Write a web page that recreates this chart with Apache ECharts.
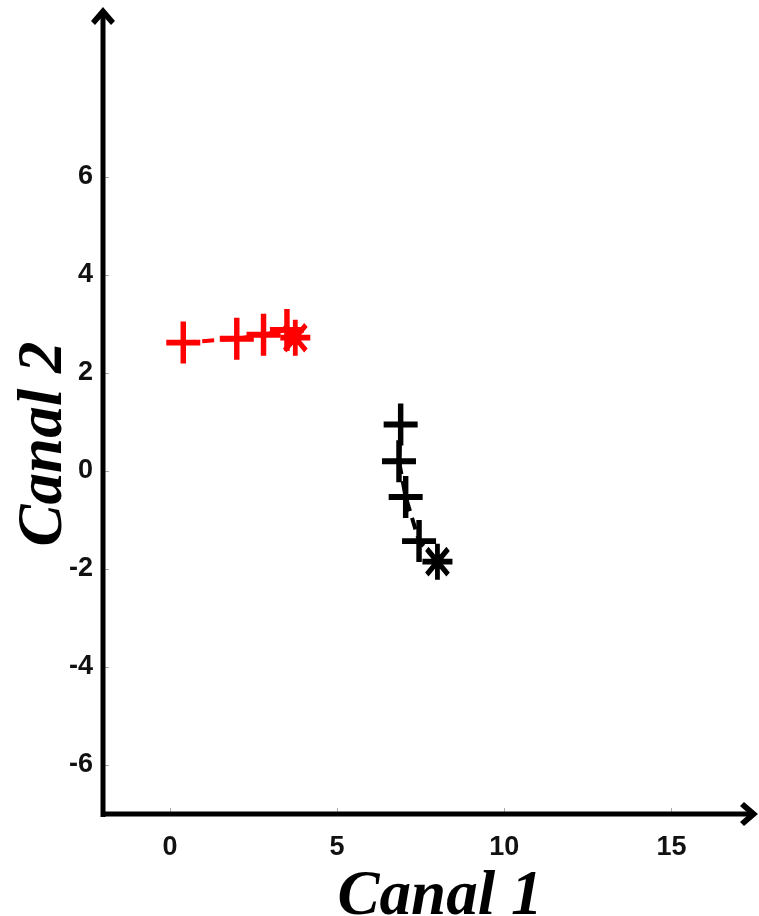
<!DOCTYPE html>
<html>
<head>
<meta charset="utf-8">
<script src="https://cdn.jsdelivr.net/npm/echarts@6/dist/echarts.min.js"></script>
<style>
  html, body { margin: 0; padding: 0; background: #fff; }
  #chart { width: 759px; height: 916px; }
</style>
</head>
<body>
<div id="chart"></div>
<script>
// groupe 1 (rouge) et groupe 2 (noir), le dernier point = centroïde
const redX = [0.4, 2.0, 2.8, 3.5, 3.75];
const redY = [2.62, 2.70, 2.78, 2.88, 2.72];
const blackX = [6.9, 6.85, 7.05, 7.45, 8.0];
const blackY = [0.95, 0.20, -0.53, -1.43, -1.85];
const xTicks = [0, 5, 10, 15];
const yTicks = [-6, -4, -2, 0, 2, 4, 6];

const plusPath = 'path://M0,43 L100,43 L100,57 L0,57 Z M42,0 L58,0 L58,100 L42,100 Z';
const starPath = 'path://M0,42 L100,42 L100,58 L0,58 Z M42,0 L58,0 L58,100 L42,100 Z ' +
  'M20.2,8.9 L91.1,79.8 L79.8,91.1 L8.9,20.2 Z M8.9,79.8 L79.8,8.9 L91.1,20.2 L20.2,91.1 Z';

function makeSeries(xs, ys, color) {
  const last = xs.length - 1;
  return {
    type: 'line',
    data: xs.map((x, i) => [x, ys[i]]),
    symbol: (v, p) => p.dataIndex === last ? starPath : plusPath,
    symbolSize: (v, p) => p.dataIndex === last ? [30, 36] : [34, 42],
    itemStyle: { color: color },
    lineStyle: { color: color, width: 4, type: [12, 7] },
    animation: false
  };
}

const chart = echarts.init(document.getElementById('chart'));
const labelFont = {
  fontFamily: 'Liberation Sans Narrow, Liberation Sans, sans-serif',
  fontWeight: 'bold',
  fontSize: 27,
  color: '#111'
};
const nameFont = {
  fontFamily: 'Liberation Serif, serif',
  fontStyle: 'italic',
  fontWeight: 'bold',
  fontSize: 63,
  color: '#000'
};
chart.setOption({
  backgroundColor: '#fff',
  grid: { left: 103, right: 54, top: 128, bottom: 102, containLabel: false, outerBoundsMode: 'none' },
  xAxis: {
    type: 'value', min: -2, max: 16,
    splitLine: { show: false },
    axisLine: { onZero: false, lineStyle: { color: '#999', width: 1 } },
    axisTick: { inside: true, length: 6, lineStyle: { color: '#aaa' }, customValues: xTicks },
    axisLabel: Object.assign({ margin: 20, customValues: xTicks }, labelFont),
    name: 'Canal 1', nameLocation: 'middle', nameGap: 44,
    nameTextStyle: Object.assign({ padding: [0, 0, 0, 72] }, nameFont)
  },
  yAxis: {
    type: 'value', min: -7, max: 7,
    splitLine: { show: false },
    axisLine: { onZero: false, lineStyle: { color: '#999', width: 1 } },
    axisTick: { inside: true, length: 6, lineStyle: { color: '#aaa' }, customValues: yTicks },
    axisLabel: Object.assign({ margin: 10, customValues: yTicks }, labelFont),
    name: 'Canal 2', nameLocation: 'middle', nameGap: 27, nameRotate: 90,
    nameMoveOverlap: false,
    nameTextStyle: Object.assign({ padding: [0, 0, 0, 54] }, nameFont)
  },
  graphic: [
    { type: 'line', shape: { x1: 103, y1: 817, x2: 103, y2: 16 }, style: { stroke: '#000', lineWidth: 5 }, z: 10 },
    { type: 'polygon', shape: { points: [[103, 7], [115, 21], [111, 25], [103, 16], [95, 25], [91, 21]] }, style: { fill: '#000' }, z: 10 },
    { type: 'line', shape: { x1: 101, y1: 814, x2: 750, y2: 814 }, style: { stroke: '#000', lineWidth: 5 }, z: 10 },
    { type: 'polygon', shape: { points: [[758, 814], [744, 826], [740, 822], [749, 814], [740, 806], [744, 802]] }, style: { fill: '#000' }, z: 10 }
  ],
  series: [
    makeSeries(redX, redY, '#ff0000'),
    makeSeries(blackX, blackY, '#000000')
  ]
});
</script>
</body>
</html>
